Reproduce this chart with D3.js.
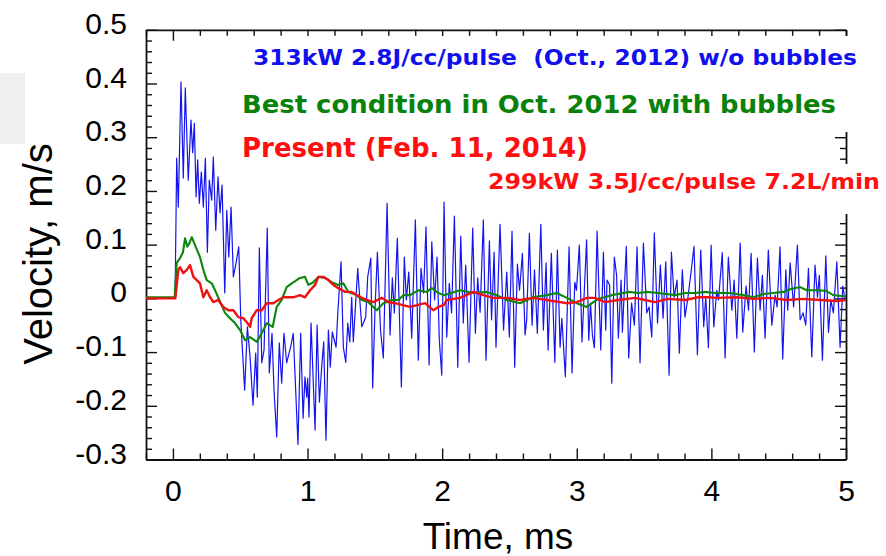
<!DOCTYPE html>
<html>
<head>
<meta charset="utf-8">
<script src="https://cdn.jsdelivr.net/npm/d3@7"></script>
<style>
  html, body { margin: 0; padding: 0; background: #ffffff; }
  svg { display: block; }
</style>
</head>
<body>
<svg id="chart" width="886" height="556"></svg>
<script>
// ---------------- DATA ----------------
// [time (ms), velocity (m/s)]
const blueSeries = [
  [-0.2,0],[0.0,0],[0.016,0.002],[0.028,0.261],[0.040,0.170],[0.060,0.403],[0.077,0.224],[0.092,0.392],
  [0.114,0.220],[0.134,0.332],[0.147,0.271],[0.159,0.326],[0.172,0.189],[0.184,0.258],[0.196,0.177],
  [0.211,0.235],[0.226,0.170],[0.241,0.261],[0.256,0.086],[0.270,0.220],[0.288,0.183],[0.300,0.263],
  [0.318,0.127],[0.335,0.226],[0.350,0.159],[0.365,0.211],[0.385,0.010],[0.400,0.164],[0.415,0.077],
  [0.432,0.170],[0.449,0.040],[0.469,0.066],[0.489,0.096],[0.504,-0.040],[0.533,-0.171],[0.553,-0.053],
  [0.573,-0.109],[0.595,-0.199],[0.615,-0.102],[0.627,-0.184],[0.642,0.094],[0.660,-0.120],[0.677,-0.096],
  [0.701,0.131],[0.716,-0.139],[0.736,-0.065],[0.751,-0.171],[0.771,-0.258],[0.790,-0.083],[0.808,-0.158],
  [0.825,-0.065],[0.845,-0.120],[0.875,-0.090],[0.894,-0.065],[0.929,-0.272],[0.949,-0.065],[0.967,-0.223],
  [0.981,-0.146],[0.994,-0.184],[1.001,-0.149],[1.011,-0.221],[1.026,-0.046],[1.056,-0.245],[1.071,-0.050],
  [1.088,-0.193],[1.105,-0.128],[1.120,-0.081],[1.137,-0.264],[1.155,-0.059],[1.169,-0.128],[1.184,-0.063],
  [1.212,-0.091],[1.224,-0.031],[1.249,0.068],[1.266,-0.091],[1.284,-0.119],[1.299,-0.046],[1.314,-0.081],
  [1.328,0.002],[1.340,-0.081],[1.373,0.056],[1.390,-0.009],[1.403,-0.053],[1.432,-0.035],[1.447,0.040],
  [1.470,0.075],[1.484,-0.167],[1.501,-0.022],[1.519,0.086],[1.542,-0.059],[1.563,-0.111],[1.591,0.177],
  [1.613,-0.068],[1.630,0.038],[1.645,-0.027],[1.667,0.112],[1.697,-0.165],[1.719,0.077],[1.734,-0.003],
  [1.752,0.049],[1.774,-0.074],[1.801,0.146],[1.823,-0.115],[1.843,0.056],[1.862,0.010],[1.880,0.133],
  [1.903,-0.124],[1.923,0.105],[1.944,-0.003],[1.962,0.077],[1.979,-0.078],[1.997,-0.143],[2.014,0.179],
  [2.034,-0.072],[2.053,0.028],[2.070,-0.027],[2.091,0.153],[2.116,-0.128],[2.138,0.116],[2.157,-0.046],
  [2.175,0.062],[2.200,-0.119],[2.227,0.131],[2.247,-0.065],[2.264,0.038],[2.282,-0.026],[2.306,0.146],
  [2.326,-0.115],[2.351,0.107],[2.367,-0.040],[2.386,0.086],[2.400,-0.091],[2.430,0.138],[2.456,-0.059],
  [2.480,0.049],[2.499,-0.072],[2.519,0.125],[2.539,-0.128],[2.559,0.064],[2.575,0.015],[2.596,0.084],
  [2.616,-0.068],[2.628,-0.040],[2.648,0.121],[2.668,-0.050],[2.686,0.053],[2.707,-0.065],[2.733,0.138],
  [2.752,-0.059],[2.772,0.066],[2.787,-0.096],[2.811,0.084],[2.837,-0.119],[2.856,0.090],[2.876,-0.091],
  [2.889,-0.037],[2.915,-0.146],[2.943,0.096],[2.965,-0.139],[2.985,0.030],[2.998,0.015],[3.019,0.099],
  [3.039,-0.081],[3.073,0.109],[3.089,-0.078],[3.102,-0.009],[3.116,-0.068],[3.131,-0.092],[3.151,0.125],
  [3.178,-0.096],[3.198,0.086],[3.215,-0.059],[3.225,0.034],[3.244,0.025],[3.260,-0.158],[3.279,0.077],
  [3.296,0.043],[3.309,-0.074],[3.329,0.034],[3.339,-0.063],[3.368,0.097],[3.386,-0.111],[3.407,-0.009],
  [3.428,-0.050],[3.448,0.096],[3.470,-0.120],[3.495,0.103],[3.520,-0.027],[3.537,-0.016],[3.557,-0.072],
  [3.576,0.122],[3.600,-0.046],[3.621,0.062],[3.641,-0.037],[3.661,0.068],[3.686,-0.143],[3.703,0.086],
  [3.723,0.002],[3.745,0.034],[3.762,-0.102],[3.784,0.053],[3.804,-0.035],[3.826,0.002],[3.849,0.049],
  [3.871,0.097],[3.896,-0.105],[3.921,0.090],[3.943,-0.053],[3.958,0.002],[3.978,-0.092],[3.998,0.099],
  [4.018,-0.053],[4.040,0.015],[4.053,-0.003],[4.081,0.085],[4.102,-0.111],[4.126,0.077],[4.152,-0.022],
  [4.169,0.034],[4.189,-0.074],[4.214,0.103],[4.233,-0.063],[4.258,0.023],[4.276,-0.022],[4.295,0.084],
  [4.319,-0.100],[4.342,0.075],[4.362,-0.022],[4.379,0.043],[4.399,-0.074],[4.423,0.090],[4.449,-0.050],
  [4.473,0.006],[4.488,-0.016],[4.510,0.096],[4.530,-0.113],[4.553,0.053],[4.567,-0.022],[4.585,0.066],
  [4.611,-0.016],[4.639,0.099],[4.659,-0.040],[4.681,-0.027],[4.701,-0.050],[4.721,0.056],[4.746,-0.109],
  [4.770,0.062],[4.788,0.002],[4.802,0.043],[4.825,-0.115],[4.850,0.079],[4.870,-0.063],[4.887,-0.003],
  [4.906,-0.027],[4.932,0.068],[4.956,-0.091],[4.976,0.023],[4.993,-0.003]
];

const greenSeries = [
  [-0.2,0.002],[0.0,0.002],[0.013,0.002],[0.028,0.066],[0.053,0.075],[0.075,0.086],[0.090,0.112],
  [0.107,0.096],[0.123,0.103],[0.140,0.114],[0.164,0.099],[0.201,0.077],[0.226,0.053],[0.251,0.034],
  [0.288,0.028],[0.313,0.015],[0.345,-0.003],[0.387,-0.027],[0.424,-0.037],[0.461,-0.046],[0.499,-0.059],
  [0.536,-0.078],[0.573,-0.072],[0.623,-0.081],[0.660,-0.065],[0.697,-0.046],[0.741,-0.053],[0.771,-0.016],
  [0.808,-0.003],[0.845,0.021],[0.883,0.028],[0.944,0.038],[0.981,0.040],[1.006,0.025],[1.043,0.030],
  [1.080,0.040],[1.130,0.038],[1.180,0.030],[1.229,0.025],[1.266,0.028],[1.303,0.012],[1.366,0.006],
  [1.403,-0.003],[1.452,-0.007],[1.489,-0.016],[1.514,-0.022],[1.563,-0.009],[1.626,-0.003],[1.675,-0.003],
  [1.712,0.006],[1.761,0.006],[1.823,0.015],[1.886,0.012],[1.923,0.019],[1.972,0.010],[2.014,0.006],
  [2.133,0.015],[2.232,0.010],[2.331,0.012],[2.406,0.006],[2.480,-0.003],[2.579,-0.009],[2.675,0.002],
  [2.777,0.006],[2.851,0.010],[2.926,0.001],[3.000,-0.009],[3.074,-0.016],[3.158,-0.001],[3.260,0.006],
  [3.383,0.012],[3.458,0.010],[3.520,0.012],[3.604,0.010],[3.730,0.006],[3.805,0.010],[3.879,0.010],
  [3.953,0.012],[4.028,0.010],[4.139,0.010],[4.236,0.006],[4.312,0.002],[4.386,0.008],[4.458,0.010],
  [4.535,0.012],[4.585,0.017],[4.659,0.021],[4.709,0.015],[4.783,0.015],[4.852,0.014],[4.906,0.006],
  [4.981,0.004],[5.0,0.004]
];

const redSeries = [
  [-0.2,0],[0.0,0],[0.018,0],[0.040,0.053],[0.053,0.058],[0.077,0.047],[0.103,0.053],[0.127,0.062],
  [0.152,0.040],[0.177,0.034],[0.201,0.028],[0.226,0.002],[0.251,0.015],[0.276,0.002],[0.300,-0.007],
  [0.337,-0.003],[0.374,-0.016],[0.412,-0.022],[0.449,-0.022],[0.486,-0.035],[0.523,-0.037],[0.553,-0.046],
  [0.573,-0.053],[0.585,-0.037],[0.623,-0.022],[0.660,-0.022],[0.697,-0.009],[0.746,-0.009],[0.783,-0.003],
  [0.820,0.002],[0.894,0.002],[0.944,0.006],[0.981,0.002],[1.019,0.015],[1.056,0.025],[1.080,0.040],
  [1.117,0.040],[1.155,0.034],[1.192,0.025],[1.229,0.019],[1.279,0.012],[1.328,0.012],[1.366,0.006],
  [1.403,0.001],[1.440,-0.003],[1.489,-0.007],[1.551,0.001],[1.600,-0.007],[1.650,-0.009],[1.700,-0.012],
  [1.761,-0.016],[1.823,-0.012],[1.873,-0.009],[1.935,-0.022],[1.972,-0.016],[2.014,-0.012],[2.034,-0.003],
  [2.133,0.001],[2.232,0.012],[2.306,0.006],[2.380,0.001],[2.480,0.001],[2.579,-0.003],[2.675,0.001],
  [2.777,-0.003],[2.876,-0.007],[2.926,-0.009],[3.000,-0.007],[3.074,0.001],[3.135,0.001],[3.210,-0.007],
  [3.307,-0.003],[3.433,0.001],[3.507,-0.003],[3.581,-0.007],[3.678,-0.001],[3.804,-0.003],[3.903,0.002],
  [3.978,0.002],[4.050,0.001],[4.189,0.002],[4.312,-0.001],[4.436,0.001],[4.560,-0.003],[4.681,-0.001],
  [4.807,-0.003],[4.932,-0.005],[5.0,-0.003]
];

const xTickValues = [0, 1, 2, 3, 4, 5];
const xTickLabels = ["0", "1", "2", "3", "4", "5"];
const yTickValues = [-0.3, -0.2, -0.1, 0, 0.1, 0.2, 0.3, 0.4, 0.5];
const yTickLabels = ["-0.3", "-0.2", "-0.1", "0", "0.1", "0.2", "0.3", "0.4", "0.5"];
const xMinorValues = [-0.2, 0.2, 0.4, 0.6, 0.8, 1.2, 1.4, 1.6, 1.8, 2.2, 2.4, 2.6, 2.8, 3.2, 3.4, 3.6, 3.8, 4.2, 4.4, 4.6, 4.8];
const yMinorValues = [-0.28,-0.26,-0.24,-0.22,-0.18,-0.16,-0.14,-0.12,-0.08,-0.06,-0.04,-0.02,
  0.02,0.04,0.06,0.08,0.12,0.14,0.16,0.18,0.22,0.24,0.26,0.28,0.32,0.34,0.36,0.38,0.42,0.44,0.46,0.48];

const legendTexts = [
  "313kW 2.8J/cc/pulse\u00a0 (Oct., 2012) w/o bubbles",
  "Best condition in Oct. 2012 with bubbles",
  "Present (Feb. 11, 2014)",
  "299kW 3.5J/cc/pulse 7.2L/min"
];
const xTitle = "Time, ms";
const yTitle = "Velocity, m/s";

// ---------------- DRAW ----------------
const svg = d3.select("#chart");
const W = 886, H = 556;
svg.append("rect").attr("width", W).attr("height", H).attr("fill", "#fff");

// faint gray box at left edge
svg.append("rect").attr("x", 0).attr("y", 73).attr("width", 25).attr("height", 71).attr("fill", "#efefef");

const L = 146, R = 846, T = 29.8, B = 459.5;
const x = d3.scaleLinear().domain([-0.2, 5]).range([L, R]);
const y = d3.scaleLinear().domain([-0.3, 0.5]).range([B, T]);

const axisColor = "#111";
const MAJ = 11, MIN = 6;

function styleAxis(g) {
  g.select(".domain").attr("stroke", axisColor).attr("stroke-width", 1.8);
  g.selectAll(".tick line").attr("stroke", axisColor).attr("stroke-width", 1.4);
}
function minorStyle(g) {
  g.select(".domain").remove();
  g.selectAll(".tick line").attr("stroke", axisColor).attr("stroke-width", 1.4);
}

// Bottom
const gb = svg.append("g").attr("transform", `translate(0,${B})`)
  .call(d3.axisBottom(x).tickValues(xTickValues).tickSizeInner(-MAJ).tickSizeOuter(0).tickPadding(20)
    .tickFormat((d, i) => xTickLabels[i]));
styleAxis(gb);
gb.selectAll("text").attr("font-family", "'Liberation Sans', Arial, sans-serif").attr("font-size", 30)
  .attr("fill", "#000").attr("dy", "0.71em");
svg.append("g").attr("transform", `translate(0,${B})`)
  .call(d3.axisBottom(x).tickValues(xMinorValues).tickSizeInner(-MIN).tickSizeOuter(0).tickFormat(""))
  .call(minorStyle);

// Top
const gt = svg.append("g").attr("transform", `translate(0,${T})`)
  .call(d3.axisTop(x).tickValues(xTickValues).tickSizeInner(-MAJ).tickSizeOuter(0).tickFormat(""));
styleAxis(gt);
svg.append("g").attr("transform", `translate(0,${T})`)
  .call(d3.axisTop(x).tickValues(xMinorValues).tickSizeInner(-MIN).tickSizeOuter(0).tickFormat(""))
  .call(minorStyle);

// Left
const gl = svg.append("g").attr("transform", `translate(${L},0)`)
  .call(d3.axisLeft(y).tickValues(yTickValues).tickSizeInner(-MAJ).tickSizeOuter(0).tickPadding(19)
    .tickFormat((d, i) => yTickLabels[i]));
styleAxis(gl);
gl.selectAll("text").attr("font-family", "'Liberation Sans', Arial, sans-serif").attr("font-size", 30)
  .attr("fill", "#000").attr("dy", "0.12em");
svg.append("g").attr("transform", `translate(${L},0)`)
  .call(d3.axisLeft(y).tickValues(yMinorValues).tickSizeInner(-MIN).tickSizeOuter(0).tickFormat(""))
  .call(minorStyle);

// Right
const gr = svg.append("g").attr("transform", `translate(${R},0)`)
  .call(d3.axisRight(y).tickValues(yTickValues).tickSizeInner(-MAJ).tickSizeOuter(0).tickFormat(""));
styleAxis(gr);
svg.append("g").attr("transform", `translate(${R},0)`)
  .call(d3.axisRight(y).tickValues(yMinorValues).tickSizeInner(-MIN).tickSizeOuter(0).tickFormat(""))
  .call(minorStyle);

// Series lines
const line = d3.line().x(d => x(d[0])).y(d => y(d[1])).curve(d3.curveLinear);
svg.append("path").datum(blueSeries).attr("d", line).attr("fill", "none")
  .attr("stroke", "#1414ee").attr("stroke-width", 1.2).attr("stroke-linejoin", "round");
svg.append("path").datum(greenSeries).attr("d", line).attr("fill", "none")
  .attr("stroke", "#0a870a").attr("stroke-width", 2.1).attr("stroke-linejoin", "round");
svg.append("path").datum(redSeries).attr("d", line).attr("fill", "none")
  .attr("stroke", "#ee1111").attr("stroke-width", 2.4).attr("stroke-linejoin", "round");

// Legend text boxes (white backgrounds, covering parts of the frame)
svg.append("rect").attr("x", 246).attr("y", 36).attr("width", 616).attr("height", 96).attr("fill", "#fff");
svg.append("rect").attr("x", 483).attr("y", 164).attr("width", 403).attr("height", 50).attr("fill", "#fff");

const legendFont = "'DejaVu Sans', Verdana, sans-serif";
const legendSpecs = [
  { i: 0, x: 253, y: 65, size: 21, len: 604, color: "#1010ee" },
  { i: 1, x: 242, y: 113, size: 25, len: 594, color: "#0a820a" },
  { i: 2, x: 242, y: 157, size: 26, len: 346, color: "#ff1010" },
  { i: 3, x: 488, y: 189, size: 21, len: 392, color: "#ff1010" }
];
svg.selectAll("text.legend").data(legendSpecs).enter().append("text")
  .attr("class", "legend")
  .attr("x", d => d.x).attr("y", d => d.y)
  .attr("font-family", legendFont).attr("font-weight", "bold").attr("font-size", d => d.size)
  .attr("fill", d => d.color)
  .attr("textLength", d => d.len).attr("lengthAdjust", "spacingAndGlyphs")
  .text(d => legendTexts[d.i]);

// Axis titles
svg.append("text").attr("x", 498).attr("y", 549).attr("text-anchor", "middle")
  .attr("font-family", "'Liberation Sans', Arial, sans-serif").attr("font-size", 37).attr("fill", "#000")
  .text(xTitle);
svg.append("text").attr("transform", "translate(52,254) rotate(-90)").attr("text-anchor", "middle")
  .attr("font-family", "'Liberation Sans', Arial, sans-serif").attr("font-size", 40).attr("fill", "#000")
  .text(yTitle);
</script>
</body>
</html>
